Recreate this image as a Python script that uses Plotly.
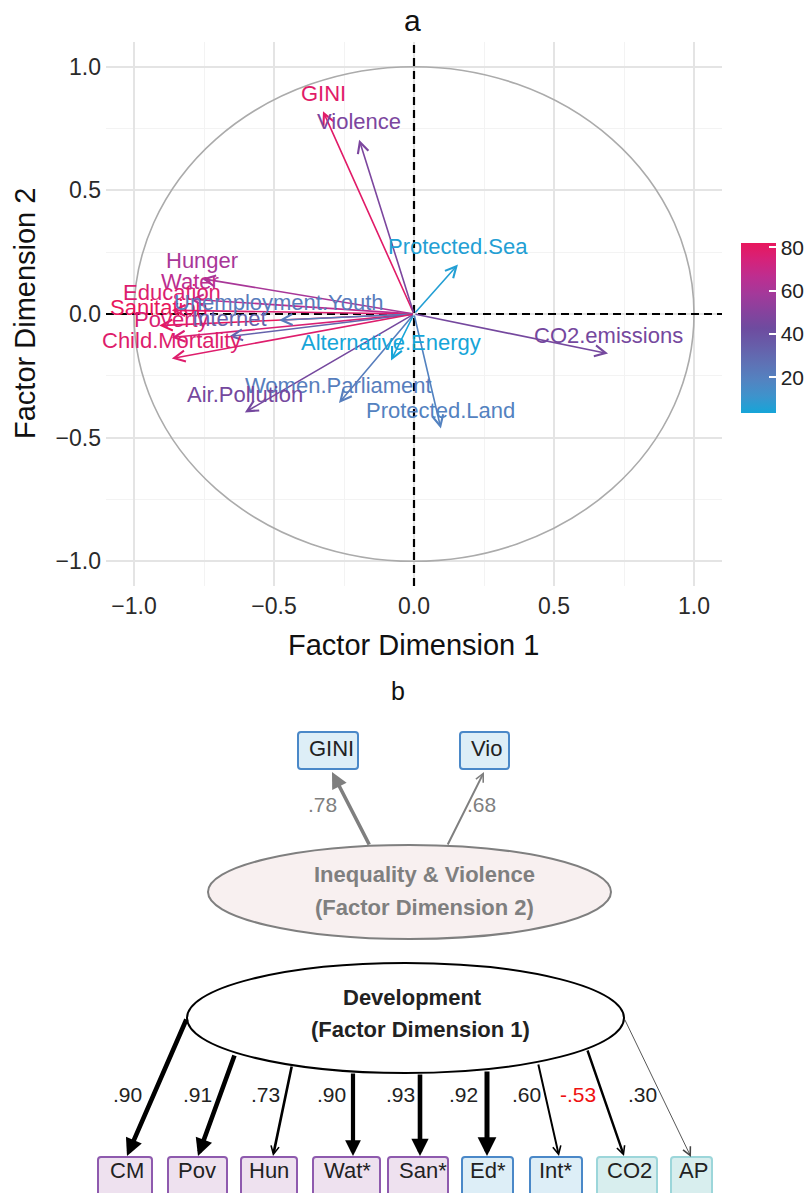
import plotly.graph_objects as go
from plotly.colors import sample_colorscale

W, H = 811, 1193
FONT = "Liberation Sans, Arial, Helvetica, sans-serif"

# ---------------- panel a : variable correlation plot ----------------
variables = ["GINI", "Violence", "Protected.Sea", "CO2.emissions", "Alternative.Energy",
             "Women.Parliament", "Protected.Land", "Air.Pollution", "Hunger", "Water",
             "Education", "Sanitation", "Poverty", "Internet", "Unemployment.Youth",
             "Child.Mortality"]
dim1 = [-0.325, -0.196, 0.157, 0.693, -0.082, -0.268, 0.096, -0.604, -0.757, -0.800,
        -0.865, -0.910, -0.865, -0.660, -0.482, -0.865]
dim2 = [0.820, 0.705, 0.200, -0.160, -0.188, -0.360, -0.463, -0.398, 0.143, 0.060,
        0.015, -0.047, -0.095, -0.091, -0.025, -0.180]
contrib = [79, 47, 6, 45, 3.5, 21, 19, 45, 60, 66, 77, 82, 76, 33, 22, 78]
axis_ticks = [-1.0, -0.5, 0.0, 0.5, 1.0]
cbar_ticks = [20, 40, 60, 80]

# ---------------- panel b : path diagram ----------------
f2_items = ["GINI", "Vio"]
f2_loadings = [0.78, 0.68]
f1_items = ["CM", "Pov", "Hun", "Wat*", "San*", "Ed*", "Int*", "CO2", "AP"]
f1_loadings = [0.90, 0.91, 0.73, 0.90, 0.93, 0.92, 0.60, -0.53, 0.30]
f2_name = ["Inequality & Violence", "(Factor Dimension 2)"]
f1_name = ["Development", "(Factor Dimension 1)"]

# colour scale (cyan -> purple -> pink)
cscale = [[0.0, "#16A5D8"], [0.1, "#3E93CC"], [0.2, "#5482C0"], [0.3, "#5F70B4"],
          [0.4, "#675DA9"], [0.5, "#6E4B9F"], [0.6, "#88429D"], [0.7, "#A3399A"],
          [0.8, "#BD2E90"], [0.9, "#D5227A"], [1.0, "#E8175D"]]
cmin, cmax = min(contrib), max(contrib)
cols = sample_colorscale(cscale, [(c - cmin) / (cmax - cmin) for c in contrib])

fig = go.Figure()

# invisible trace that carries the colour bar
fig.add_trace(go.Scatter(
    x=dim1, y=dim2, mode="markers", hoverinfo="skip", showlegend=False,
    marker=dict(size=0.1, opacity=0, color=contrib, colorscale=cscale, cmin=cmin, cmax=cmax,
                showscale=True,
                colorbar=dict(x=741 / W, xanchor="left", xpad=0, ypad=0,
                              y=(H - 328) / H, yanchor="middle", yref="paper",
                              len=170, lenmode="pixels", thickness=35,
                              outlinewidth=0, tickvals=cbar_ticks,
                              ticks="inside", ticklen=7, tickcolor="white", tickwidth=1.5,
                              tickfont=dict(size=21, color="#222222", family=FONT),
                              title=dict(text=""))),
    xaxis="x", yaxis="y"))

# arrows (through data axes)
ann = []
for v, x, y, c in zip(variables, dim1, dim2, cols):
    ann.append(dict(x=x, y=y, ax=0, ay=0, xref="x", yref="y", axref="x", ayref="y",
                    text="", showarrow=True, arrowhead=5, arrowsize=1.35, arrowwidth=1.6,
                    arrowcolor=c, standoff=0))
for v, x, y, c in zip(variables, dim1, dim2, cols):
    ann.append(dict(x=x, y=y, xref="x", yref="y", text=v, showarrow=False, yshift=18,
                    xanchor="center", yanchor="middle",
                    font=dict(size=22, color=c, family=FONT)))

# titles of panel a
ann.append(dict(x=412 / W, y=(H - 20) / H, xref="paper", yref="paper", text="a", showarrow=False,
                font=dict(size=30, color="#111111", family=FONT), xanchor="center", yanchor="middle"))
ann.append(dict(x=414 / W, y=(H - 645) / H, xref="paper", yref="paper", text="Factor Dimension 1",
                showarrow=False, font=dict(size=29, color="#111111", family=FONT),
                xanchor="center", yanchor="middle"))
ann.append(dict(x=25 / W, y=(H - 314) / H, xref="paper", yref="paper", text="Factor Dimension 2",
                showarrow=False, textangle=-90, font=dict(size=29, color="#111111", family=FONT),
                xanchor="center", yanchor="middle"))

shapes = []
# unit circle
shapes.append(dict(type="circle", xref="x", yref="y", x0=-1, x1=1, y0=-1, y1=1,
                   line=dict(color="#ABABAB", width=1.6), layer="above"))
# dashed zero lines
shapes.append(dict(type="line", xref="x", yref="y domain", x0=0, x1=0, y0=0, y1=1,
                   line=dict(color="black", width=2.2, dash="8px,5px"), layer="above"))
shapes.append(dict(type="line", xref="x domain", yref="y", x0=0, x1=1, y0=0, y1=0,
                   line=dict(color="black", width=2.2, dash="8px,5px"), layer="above"))

# ---------------- panel b drawing (pixel-like coordinate system) ----------------
def rrect(x0, y0, x1, y1, r=3):
    return (f"M{x0+r},{y0} L{x1-r},{y0} Q{x1},{y0} {x1},{y0+r} L{x1},{y1-r} "
            f"Q{x1},{y1} {x1-r},{y1} L{x0+r},{y1} Q{x0},{y1} {x0},{y1-r} "
            f"L{x0},{y0+r} Q{x0},{y0} {x0+r},{y0} Z")

ann.append(dict(x=398, y=691, xref="x2", yref="y2", text="b", showarrow=False,
                font=dict(size=25, color="#111111", family=FONT)))

# layout of the diagram (positions / styles)
f2_box_x = [(298, 358), (460, 509)]
f2_box_y = (732, 769)
f2_text_x = [331, 486]
f2_from = [(370, 846), (447, 846)]
f2_to = [(332, 772), (484, 772)]
f2_lab = [(322, 804), (481, 804)]
f2_width = [3.6, 2.0]

BLUE_F, BLUE_L = "#DDEEF7", "#4A88C8"
PURP_F, PURP_L = "#EEE1EF", "#8E5AAE"
TEAL_F, TEAL_L = "#D8EEEE", "#9CD6DA"

for (bx0, bx1), tx, item in zip(f2_box_x, f2_text_x, f2_items):
    shapes.append(dict(type="path", xref="x2", yref="y2", path=rrect(bx0, f2_box_y[0], bx1, f2_box_y[1]),
                       fillcolor=BLUE_F, line=dict(color=BLUE_L, width=2), layer="above"))
    ann.append(dict(x=tx, y=748, xref="x2", yref="y2", text=item, showarrow=False,
                    font=dict(size=22, color="#222222", family=FONT)))

# factor 2 ellipse
shapes.append(dict(type="circle", xref="x2", yref="y2", x0=208, x1=611, y0=845, y1=939,
                   fillcolor="#F8F0F0", line=dict(color="#7F7F7F", width=2), layer="above"))
for line_txt, ly in zip(f2_name, [874, 907]):
    ann.append(dict(x=424, y=ly, xref="x2", yref="y2", text="<b>" + line_txt + "</b>", showarrow=False,
                    font=dict(size=22, color="#7F7F7F", family=FONT)))

for (sx, sy), (ex, ey), (lx, ly), w, ld in zip(f2_from, f2_to, f2_lab, f2_width, f2_loadings):
    ann.append(dict(x=ex, y=ey, ax=sx, ay=sy, xref="x2", yref="y2", axref="x2", ayref="y2",
                    text="", showarrow=True, arrowhead=5 if w < 3 else 2,
                    arrowsize=1.6 / w if w < 3 else 0.9, arrowwidth=w,
                    arrowcolor="#7F7F7F", standoff=0))
    ann.append(dict(x=lx, y=ly, xref="x2", yref="y2", text=f"{ld:.2f}".replace("0.", "."),
                    showarrow=False, font=dict(size=21, color="#7F7F7F", family=FONT)))

# factor 1 ellipse
shapes.append(dict(type="circle", xref="x2", yref="y2", x0=187, x1=624, y0=963, y1=1073,
                   fillcolor="white", line=dict(color="black", width=2), layer="above"))
for line_txt, lx, ly in zip(f1_name, [412, 420], [997, 1029]):
    ann.append(dict(x=lx, y=ly, xref="x2", yref="y2", text="<b>" + line_txt + "</b>", showarrow=False,
                    font=dict(size=22, color="#222222", family=FONT)))

f1_box_x = [(98, 152), (168, 227), (241, 297), (313, 380), (388, 448),
            (462, 513), (530, 582), (597, 657), (671, 712)]
f1_text_x = [127, 197, 269, 347, 423, 488, 555, 629, 693]
f1_fill = [PURP_F] * 5 + [BLUE_F] * 2 + [TEAL_F] * 2
f1_line = [PURP_L] * 5 + [BLUE_L] * 2 + [TEAL_L] * 2
f1_from = [(187, 1018), (235, 1054), (292, 1065), (353, 1072), (420, 1073),
           (487, 1070), (538, 1063), (587, 1049), (624, 1018)]
f1_to = [(127, 1156), (198, 1156), (273, 1156), (353, 1156), (420, 1156),
         (487, 1156), (559, 1156), (624, 1156), (691, 1157)]
f1_lab_x = [127, 197, 265, 331, 400, 463, 526, 578, 642]
f1_width = [4.6, 4.6, 2.6, 4.2, 4.6, 5.0, 2.0, 2.4, 0.9]
f1_color = ["black"] * 8 + ["#444444"]

for (bx0, bx1), tx, item, fc, lc in zip(f1_box_x, f1_text_x, f1_items, f1_fill, f1_line):
    shapes.append(dict(type="path", xref="x2", yref="y2", path=rrect(bx0, 1157, bx1, 1215),
                       fillcolor=fc, line=dict(color=lc, width=2), layer="above"))
    ann.append(dict(x=tx, y=1170, xref="x2", yref="y2", text=item, showarrow=False,
                    font=dict(size=22, color="#222222", family=FONT)))

for (sx, sy), (ex, ey), lx, w, ld, ac in zip(f1_from, f1_to, f1_lab_x, f1_width, f1_loadings, f1_color):
    ann.append(dict(x=ex, y=ey, ax=sx, ay=sy, xref="x2", yref="y2", axref="x2", ayref="y2",
                    text="", showarrow=True, arrowhead=5 if w < 3 else 2,
                    arrowsize=1.6 / w if w < 3 else 0.75, arrowwidth=w,
                    arrowcolor=ac, standoff=0))
    ann.append(dict(x=lx, y=1094, xref="x2", yref="y2", text=f"{ld:.2f}".replace("0.", "."),
                    showarrow=False,
                    font=dict(size=21, color="#EE1111" if ld < 0 else "#222222", family=FONT)))

axis_common = dict(range=[-1.1, 1.1], tickvals=axis_ticks, tickformat=".1f",
                   showgrid=True, gridcolor="#E4E4E4", gridwidth=1.5,
                   minor=dict(showgrid=True, dtick=0.25, tick0=0, gridcolor="#F3F3F3", gridwidth=1),
                   zeroline=False, showline=False, ticks="", ticklabelstandoff=4,
                   tickfont=dict(size=23, color="#2A2A2A", family=FONT), fixedrange=True)

fig.update_layout(
    width=W, height=H, margin=dict(l=0, r=0, t=0, b=0, autoexpand=False),
    paper_bgcolor="white", plot_bgcolor="white", showlegend=False,
    font=dict(family=FONT),
    xaxis=dict(domain=[106 / W, 722 / W], anchor="y", **axis_common),
    yaxis=dict(domain=[(H - 586) / H, (H - 42) / H], anchor="x", **axis_common),
    xaxis2=dict(domain=[0, 1], range=[0, W], visible=False, anchor="y2", fixedrange=True),
    yaxis2=dict(domain=[0, (H - 660) / H], range=[H, 660], visible=False, anchor="x2", fixedrange=True),
    shapes=shapes, annotations=ann,
)

fig.write_html("out.html")
